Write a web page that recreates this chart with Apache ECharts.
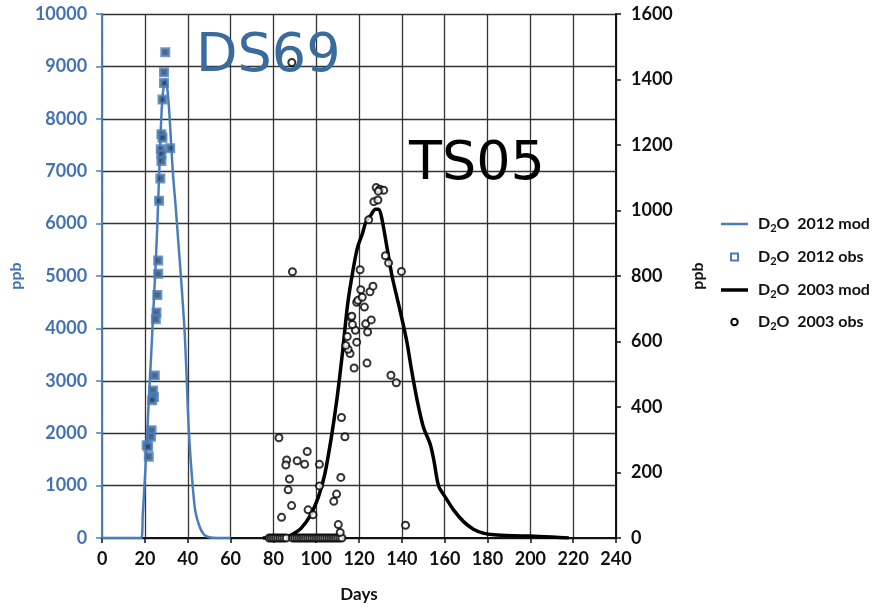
<!DOCTYPE html>
<html>
<head>
<meta charset="utf-8">
<script src="https://cdn.jsdelivr.net/npm/echarts@6/dist/echarts.min.js"></script>
<style>
  html, body { margin: 0; padding: 0; background: #fff; }
  #chart { width: 881px; height: 608px; }
</style>
</head>
<body>
<div id="chart"></div>
<script>
// D2O tracer concentrations: DS69 (2012, left axis) and TS05 (2003, right axis)
const xTicks = { min: 0, max: 240, step: 20 };
const leftTicks = { min: 0, max: 10000, step: 1000 };
const rightTicks = { min: 0, max: 1600, step: 200 };

// 2012 model curve (ppb, left axis)
const mod2012Days = [0, 18.3, 19, 20, 21, 22, 23, 24, 25, 26, 27, 28, 29, 29.7, 30.5, 31.5, 33, 34.5, 35.5, 37, 38.5, 39.5, 40.5, 42, 43.5, 45.5, 47.5, 50, 54, 60];
const mod2012Ppb  = [0, 0, 450, 1150, 1950, 2780, 3560, 4400, 5200, 6200, 7350, 8300, 8680, 8750, 8560, 8050, 7000, 6250, 5700, 4880, 3960, 3050, 2050, 1150, 520, 220, 70, 15, 0, 0];

// 2012 observations (ppb, left axis)
const obs2012Days = [29.5, 28.9, 28.9, 28.2, 27.7, 28.2, 27.4, 27.7, 27.7, 31.8, 27.2, 26.6, 26.2, 26.2, 25.8, 25.4, 25.1, 24.6, 23.8, 24.2, 23.4, 23.1, 22.8, 20.8, 21.5, 21.8];
const obs2012Ppb  = [9272, 8886, 8684, 8367, 7703, 7640, 7418, 7323, 7196, 7437, 6861, 6437, 5297, 5044, 4639, 4304, 4177, 3101, 2816, 2690, 2630, 2057, 1930, 1772, 1740, 1550];

// 2003 model curve (ppb, right axis)
const mod2003Days = [75, 84, 87, 90, 93, 97, 101, 104, 107, 109.7, 112.3, 114.6, 117, 119.2, 121.5, 123.1, 125.4, 127.7, 129.2, 130.8, 133.1, 135.4, 137.7, 140, 142.3, 144.6, 147, 150, 153.3, 155, 157.2, 160.3, 164.2, 168.8, 173.4, 178, 183, 192, 200, 210, 218];
const mod2003Ppb  = [0, 0, 5, 15, 30, 66, 125, 195, 305, 426, 568, 710, 811, 885, 928, 963, 985, 1004, 1004, 970, 885, 800, 735, 670, 600, 510, 425, 340, 285, 235, 158, 125, 85, 50, 27, 15, 10, 7, 6, 3, 0];

// 2003 observations (ppb, right axis)
const obs2003Days = [
  78, 79, 80, 81, 82, 83, 84, 85, 86, 89, 90, 91, 92, 93, 94, 95, 96, 97, 98, 99, 100, 101, 102, 103, 104, 105, 106, 107, 108, 109, 110, 111, 112,
  88.6, 88.9, 82.6, 86.2, 85.8, 91.1, 95.8, 94.6, 101.5, 87.5, 86.9, 88.5, 83.8, 101.5, 96.2, 98.5,
  111.8, 113.4, 111.5, 109.5, 108.2, 110.3, 111.2, 141.7,
  117.7, 123.7, 115.8, 114.9, 113.8, 114.5, 118.9, 118.3, 116.9, 116.2, 116.6, 124, 123.1, 125.7, 122.5, 118.9, 119.5, 121.5, 120.8, 125.1, 126.5, 120.5,
  124.5, 126.9, 128.8, 128, 129.7, 131.5, 129,
  132.3, 133.8, 139.8, 134.9, 137.4
];
const obs2003Ppb = [
  0, 0, 0, 0, 0, 0, 0, 0, 0, 0, 0, 0, 0, 0, 0, 0, 0, 0, 0, 0, 0, 0, 0, 0, 0, 0, 0, 0, 0, 0, 0, 0, 0,
  1452, 813, 306, 238, 223, 236, 264, 225, 225, 180, 147, 99, 63, 159, 86, 71,
  368, 309, 185, 134, 112, 41, 17, 39,
  519, 534, 563, 576, 588, 615, 598, 634, 652, 674, 677, 629, 654, 666, 705, 720, 726, 735, 758, 752, 769, 819,
  972, 1027, 1032, 1070, 1065, 1062, 1059,
  862, 840, 814, 497, 474
];

const legendLabels = ['2012 mod', '2012 obs', '2003 mod', '2003 obs'];

const BLUE = '#4a7ebb';
const BLUE_TEXT = '#4472b0';
const FONT = 'Lato, "Open Sans", sans-serif';

function pairs(xs, ys) { return xs.map((x, i) => [x, ys[i]]); }

// Legend drawn as graphics so each key can carry its own marker size
const LEGEND_X = 721;
const legendRowsY = [224, 257, 290, 322];
const legendRich = {
  a: { fontFamily: FONT, fontWeight: 'bold', fontSize: 16, fill: '#111', lineHeight: 20 },
  s: { fontFamily: FONT, fontWeight: 'bold', fontSize: 11, fill: '#111', lineHeight: 8, verticalAlign: 'bottom' }
};
const legendKeys = [
  { type: 'line', shape: { x1: 0, y1: 0, x2: 27, y2: 0 }, style: { stroke: BLUE, lineWidth: 2.5 } },
  { type: 'rect', shape: { x: 10, y: -3.5, width: 7, height: 7 }, style: { fill: '#fff', stroke: BLUE, lineWidth: 2 } },
  { type: 'line', shape: { x1: 0, y1: 0, x2: 27, y2: 0 }, style: { stroke: '#000', lineWidth: 3.5 } },
  { type: 'circle', shape: { cx: 13.5, cy: 0, r: 3.2 }, style: { fill: '#fff', stroke: '#000', lineWidth: 2 } }
];
const legendGraphics = legendLabels.map((label, i) => ({
  type: 'group',
  x: LEGEND_X,
  y: legendRowsY[i],
  children: [
    legendKeys[i],
    {
      type: 'text',
      x: 37,
      y: 0,
      style: {
        text: '{a|D}{s|2}{a|O  ' + label + '}',
        rich: legendRich,
        verticalAlign: 'middle',
        align: 'left'
      }
    }
  ]
}));

const chart = echarts.init(document.getElementById('chart'), null, { renderer: 'canvas' });

chart.setOption({
  backgroundColor: '#ffffff',
  animation: false,
  grid: { left: 98, right: 265, top: 14, bottom: 68, containLabel: false },
  xAxis: {
    type: 'value',
    min: xTicks.min,
    max: xTicks.max,
    interval: xTicks.step,
    name: 'Days',
    nameLocation: 'middle',
    nameGap: 48,
    nameTextStyle: { fontFamily: FONT, fontWeight: 'bold', fontSize: 17, color: '#111' },
    axisLine: { onZero: false, lineStyle: { color: '#111', width: 2 } },
    axisTick: { show: true, length: 5, lineStyle: { color: '#111', width: 1.5 } },
    axisLabel: { margin: 12, fontFamily: FONT, fontWeight: 'bold', fontSize: 18, color: '#111', formatter: v => String(v) },
    splitLine: { show: true, lineStyle: { color: '#333', width: 1.3 } }
  },
  yAxis: [
    {
      type: 'value',
      position: 'left',
      min: leftTicks.min,
      max: leftTicks.max,
      interval: leftTicks.step,
      name: 'ppb',
      nameLocation: 'middle',
      nameRotate: 90,
      nameGap: 74,
      nameTextStyle: { fontFamily: FONT, fontWeight: 'bold', fontSize: 16, color: BLUE_TEXT },
      axisLine: { show: true, lineStyle: { color: BLUE, width: 2 } },
      axisTick: { show: true, length: 6, lineStyle: { color: BLUE, width: 1.5 } },
      axisLabel: { margin: 15, fontFamily: FONT, fontWeight: 'bold', fontSize: 18, color: BLUE_TEXT, formatter: v => String(v) },
      splitLine: { show: true, lineStyle: { color: '#333', width: 1.3 } }
    },
    {
      type: 'value',
      position: 'right',
      min: rightTicks.min,
      max: rightTicks.max,
      interval: rightTicks.step,
      name: 'ppb',
      nameLocation: 'middle',
      nameRotate: 90,
      nameGap: 74,
      nameTextStyle: { fontFamily: FONT, fontWeight: 'bold', fontSize: 16, color: '#111' },
      axisLine: { show: true, lineStyle: { color: '#111', width: 2 } },
      axisTick: { show: true, length: 5, lineStyle: { color: '#111', width: 1.5 } },
      axisLabel: { margin: 15, fontFamily: FONT, fontWeight: 'bold', fontSize: 18, color: '#111', formatter: v => String(v) },
      splitLine: { show: false }
    }
  ],
  series: [
    {
      name: 'D2O 2012 mod',
      type: 'line',
      yAxisIndex: 0,
      data: pairs(mod2012Days, mod2012Ppb),
      showSymbol: false,
      symbol: 'none',
      smooth: 0.3,
      lineStyle: { color: BLUE, width: 2.5 },
      itemStyle: { color: BLUE },
      z: 3
    },
    {
      name: 'D2O 2012 obs',
      type: 'scatter',
      yAxisIndex: 0,
      data: pairs(obs2012Days, obs2012Ppb),
      symbol: 'rect',
      symbolSize: 7,
      itemStyle: { color: '#2d3d50', borderColor: BLUE, borderWidth: 3 },
      z: 4
    },
    {
      name: 'D2O 2003 mod',
      type: 'line',
      yAxisIndex: 1,
      data: pairs(mod2003Days, mod2003Ppb),
      showSymbol: false,
      symbol: 'none',
      smooth: 0.3,
      lineStyle: { color: '#000', width: 3.5 },
      itemStyle: { color: '#000' },
      z: 3
    },
    {
      name: 'D2O 2003 obs',
      type: 'scatter',
      yAxisIndex: 1,
      data: pairs(obs2003Days, obs2003Ppb),
      symbol: 'emptyCircle',
      symbolSize: 7,
      itemStyle: { color: '#000', borderColor: '#000', borderWidth: 2 },
      z: 5
    }
  ],
  graphic: [
    {
      type: 'text',
      left: 196,
      top: 30,
      z: 10,
      style: { text: 'DS69', fontFamily: '"DejaVu Sans", sans-serif', fontSize: 54, fill: '#3a6b9f' }
    },
    {
      type: 'text',
      left: 409,
      top: 138,
      z: 10,
      style: { text: 'TS05', fontFamily: '"DejaVu Sans", sans-serif', fontSize: 54, fill: '#000' }
    }
  ].concat(legendGraphics)
});
</script>
</body>
</html>
